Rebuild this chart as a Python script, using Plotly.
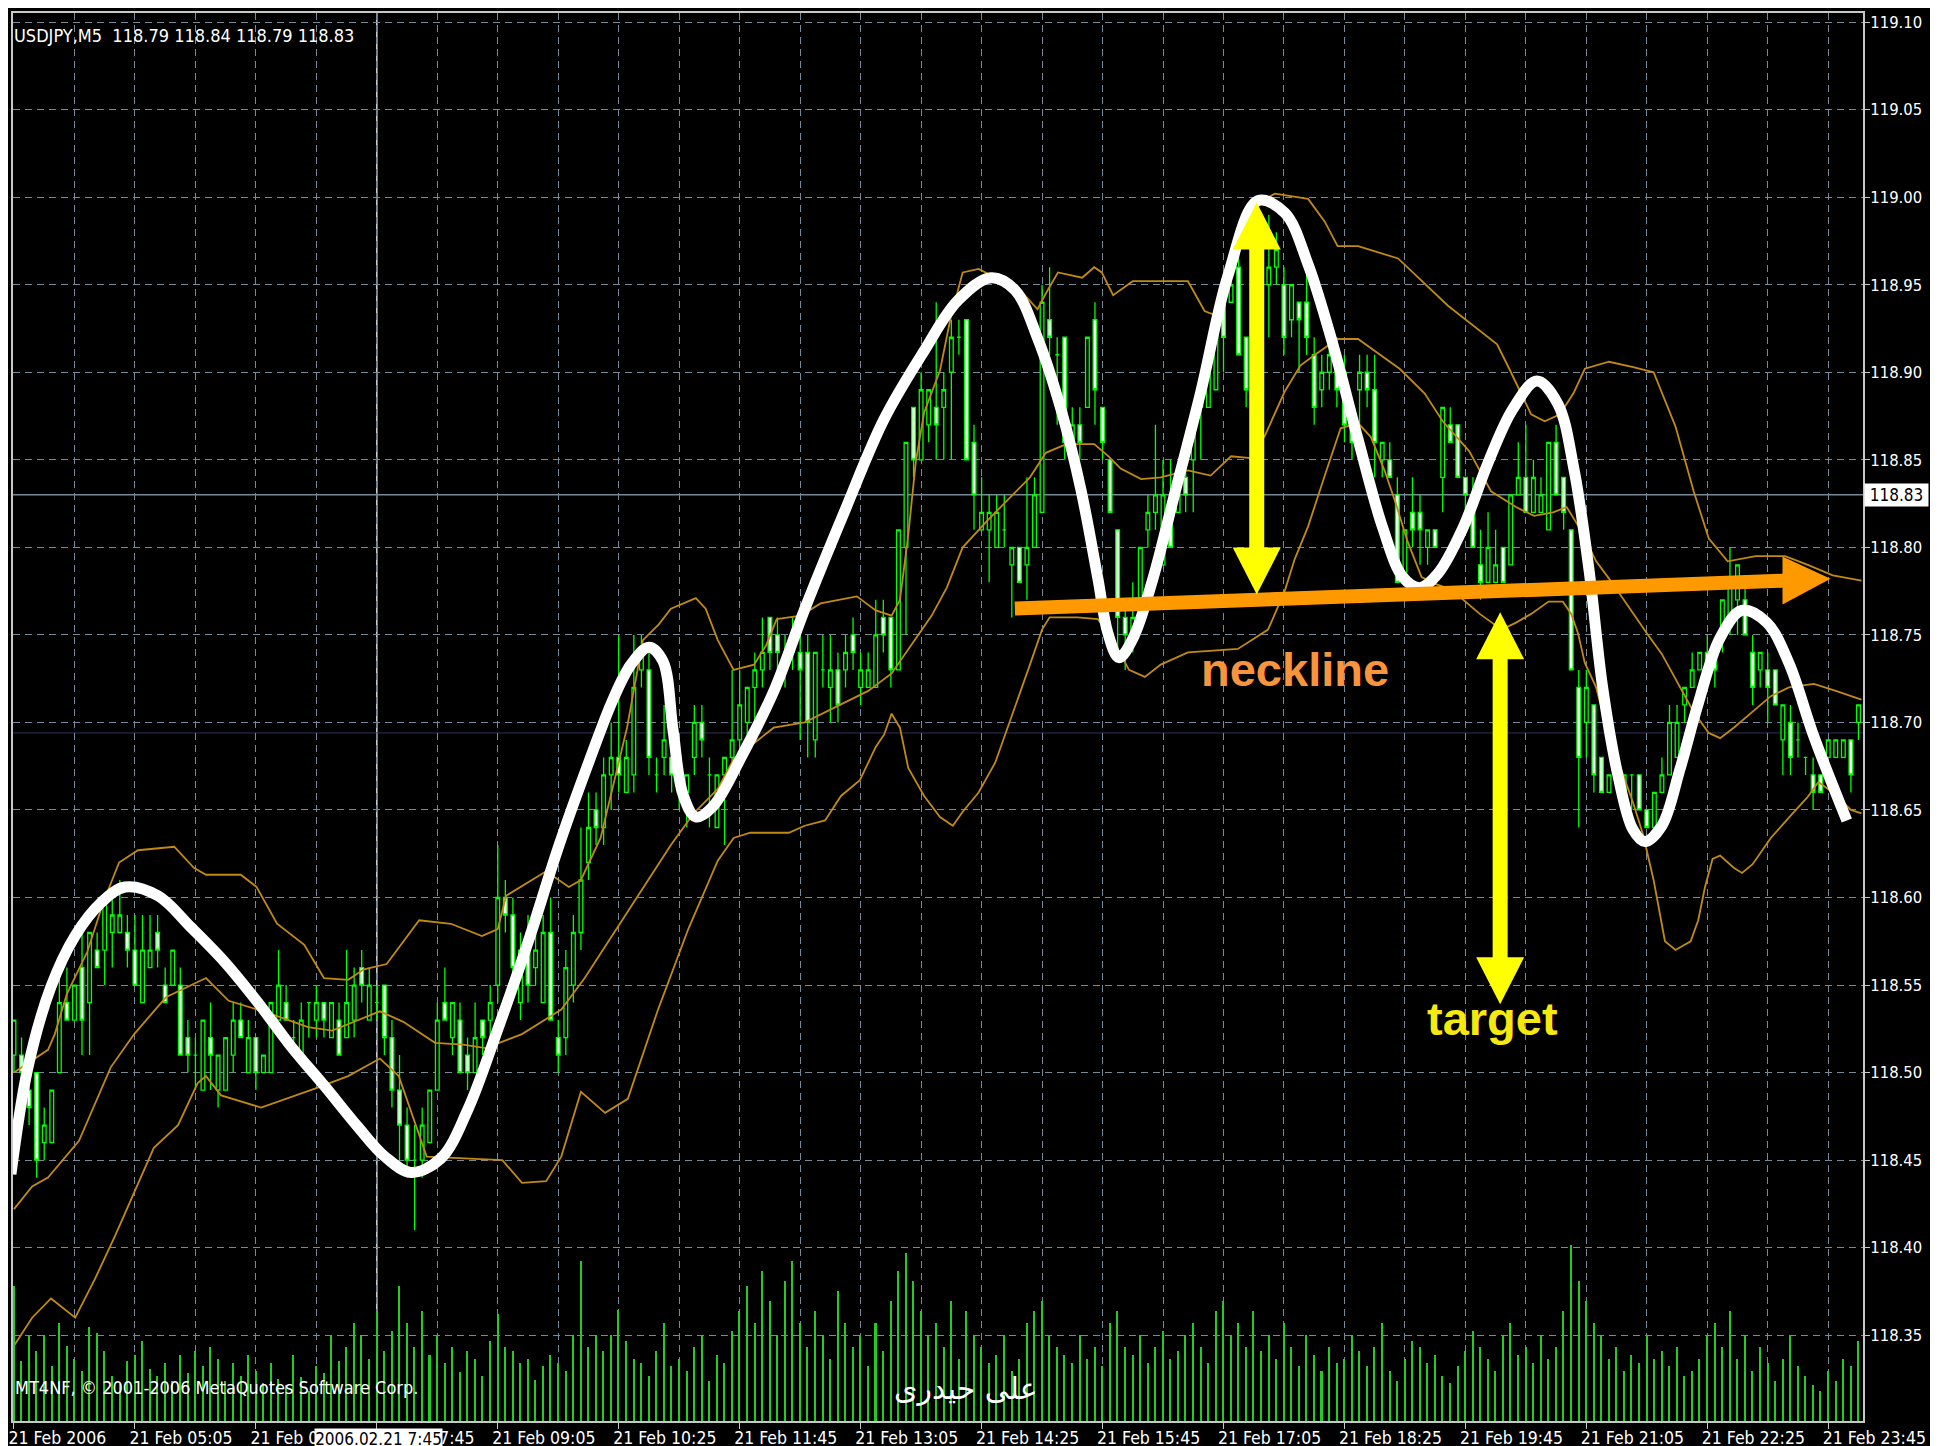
"""
    USDJPY M5 head-and-shoulders chart, MT4 style
"""

##########==========##########==========##########==========##########==========
## HEADER
import plotly.graph_objects as go

##########==========##########==========##########==========##########==========
## DATA  (5-minute bars, bar 0 = 21 Feb 03:45)

OPEN = [
    118.51, 118.51, 118.49, 118.50, 118.46, 118.46, 118.50, 118.54, 118.53, 118.56,
    118.54, 118.57, 118.57, 118.58, 118.58, 118.58, 118.57, 118.54, 118.56, 118.58,
    118.55, 118.55, 118.55, 118.52, 118.51, 118.49, 118.52, 118.49, 118.49, 118.51,
    118.53, 118.50, 118.52, 118.50, 118.50, 118.53, 118.54, 118.52, 118.51, 118.54,
    118.53, 118.54, 118.52, 118.53, 118.52, 118.53, 118.56, 118.53, 118.54, 118.55,
    118.52, 118.49, 118.47, 118.45, 118.45, 118.46, 118.49, 118.54, 118.52, 118.53,
    118.51, 118.50, 118.53, 118.53, 118.55, 118.60, 118.59, 118.54, 118.58, 118.56,
    118.54, 118.58, 118.52, 118.52, 118.55, 118.58, 118.62, 118.65, 118.64, 118.67,
    118.68, 118.66, 118.67, 118.73, 118.73, 118.67, 118.68, 118.68, 118.68, 118.66,
    118.68, 118.70, 118.67, 118.64, 118.67, 118.68, 118.69, 118.70, 118.72, 118.73,
    118.76, 118.75, 118.74, 118.74, 118.74, 118.74, 118.69, 118.73, 118.72, 118.73,
    118.73, 118.75, 118.72, 118.72, 118.72, 118.76, 118.76, 118.73, 118.80, 118.88,
    118.85, 118.87, 118.88, 118.88, 118.90, 118.92, 118.93, 118.86, 118.81, 118.81,
    118.80, 118.81, 118.79, 118.80, 118.79, 118.80, 118.82, 118.93, 118.91, 118.92,
    118.86, 118.87, 118.88, 118.93, 118.88, 118.85, 118.81, 118.76, 118.75, 118.77,
    118.81, 118.82, 118.79, 118.82, 118.82, 118.84, 118.85, 118.88, 118.88, 118.89,
    118.94, 118.94, 118.96, 118.92, 118.89, 118.94, 118.95, 118.96, 118.95, 118.93,
    118.94, 118.94, 118.91, 118.89, 118.90, 118.91, 118.90, 118.88, 118.89, 118.90,
    118.89, 118.85, 118.85, 118.83, 118.78, 118.82, 118.82, 118.80, 118.81, 118.84,
    118.87, 118.87, 118.84, 118.82, 118.79, 118.78, 118.78, 118.80, 118.79, 118.83,
    118.84, 118.82, 118.82, 118.81, 118.86, 118.84, 118.81, 118.72, 118.70, 118.71,
    118.68, 118.66, 118.67, 118.66, 118.67, 118.67, 118.65, 118.64, 118.66, 118.67,
    118.68, 118.71, 118.72, 118.73, 118.74, 118.74, 118.75, 118.76, 118.77, 118.77,
    118.74, 118.73, 118.73, 118.73, 118.69, 118.70, 118.69, 118.68, 118.67, 118.67,
    118.68, 118.68, 118.68, 118.69, 118.70]

HIGH = [
    118.53, 118.52, 118.50, 118.50, 118.48, 118.49, 118.56, 118.56, 118.55, 118.58,
    118.58, 118.58, 118.60, 118.60, 118.61, 118.59, 118.59, 118.59, 118.59, 118.59,
    118.56, 118.57, 118.56, 118.53, 118.52, 118.53, 118.54, 118.51, 118.52, 118.54,
    118.54, 118.53, 118.52, 118.51, 118.54, 118.57, 118.55, 118.53, 118.54, 118.54,
    118.55, 118.54, 118.54, 118.54, 118.57, 118.56, 118.57, 118.56, 118.55, 118.55,
    118.53, 118.51, 118.48, 118.47, 118.48, 118.49, 118.54, 118.56, 118.54, 118.54,
    118.52, 118.54, 118.53, 118.55, 118.63, 118.61, 118.60, 118.58, 118.59, 118.58,
    118.59, 118.60, 118.53, 118.57, 118.59, 118.64, 118.66, 118.66, 118.68, 118.70,
    118.75, 118.69, 118.75, 118.75, 118.74, 118.68, 118.71, 118.71, 118.68, 118.67,
    118.71, 118.71, 118.68, 118.67, 118.68, 118.73, 118.73, 118.72, 118.74, 118.76,
    118.76, 118.76, 118.75, 118.76, 118.75, 118.75, 118.74, 118.75, 118.75, 118.74,
    118.75, 118.76, 118.74, 118.74, 118.77, 118.77, 118.76, 118.81, 118.86, 118.88,
    118.90, 118.89, 118.94, 118.90, 118.93, 118.93, 118.93, 118.87, 118.84, 118.83,
    118.83, 118.83, 118.80, 118.80, 118.84, 118.84, 118.95, 118.96, 118.92, 118.92,
    118.88, 118.88, 118.92, 118.94, 118.88, 118.85, 118.81, 118.77, 118.78, 118.80,
    118.83, 118.87, 118.85, 118.85, 118.83, 118.85, 118.87, 118.89, 118.91, 118.93,
    118.94, 118.97, 118.97, 118.92, 118.96, 118.98, 118.99, 118.98, 118.96, 118.95,
    118.94, 118.96, 118.92, 118.91, 118.92, 118.92, 118.91, 118.88, 118.91, 118.91,
    118.91, 118.86, 118.86, 118.84, 118.81, 118.84, 118.83, 118.81, 118.81, 118.88,
    118.88, 118.87, 118.84, 118.84, 118.81, 118.82, 118.81, 118.80, 118.83, 118.86,
    118.87, 118.85, 118.84, 118.86, 118.87, 118.84, 118.81, 118.73, 118.73, 118.71,
    118.68, 118.67, 118.67, 118.67, 118.67, 118.67, 118.65, 118.66, 118.68, 118.71,
    118.71, 118.72, 118.74, 118.74, 118.75, 118.74, 118.77, 118.80, 118.79, 118.78,
    118.75, 118.74, 118.74, 118.73, 118.71, 118.71, 118.70, 118.68, 118.68, 118.67,
    118.69, 118.69, 118.69, 118.69, 118.71]

LOW = [
    118.50, 118.49, 118.47, 118.44, 118.45, 118.46, 118.50, 118.53, 118.53, 118.51,
    118.51, 118.56, 118.55, 118.56, 118.58, 118.56, 118.55, 118.54, 118.56, 118.56,
    118.54, 118.55, 118.51, 118.50, 118.49, 118.49, 118.49, 118.48, 118.49, 118.50,
    118.52, 118.50, 118.49, 118.50, 118.50, 118.53, 118.53, 118.51, 118.51, 118.52,
    118.52, 118.52, 118.52, 118.51, 118.52, 118.52, 118.54, 118.53, 118.53, 118.51,
    118.48, 118.45, 118.44, 118.41, 118.44, 118.46, 118.49, 118.53, 118.51, 118.50,
    118.49, 118.50, 118.51, 118.52, 118.54, 118.58, 118.55, 118.53, 118.54, 118.55,
    118.54, 118.53, 118.50, 118.51, 118.54, 118.57, 118.61, 118.63, 118.63, 118.65,
    118.66, 118.66, 118.66, 118.72, 118.67, 118.66, 118.67, 118.66, 118.65, 118.64,
    118.67, 118.68, 118.64, 118.64, 118.63, 118.67, 118.68, 118.69, 118.69, 118.72,
    118.73, 118.73, 118.72, 118.73, 118.69, 118.68, 118.68, 118.72, 118.70, 118.70,
    118.72, 118.73, 118.71, 118.72, 118.72, 118.74, 118.72, 118.73, 118.75, 118.84,
    118.85, 118.86, 118.85, 118.85, 118.85, 118.91, 118.85, 118.81, 118.81, 118.78,
    118.80, 118.80, 118.76, 118.78, 118.77, 118.80, 118.82, 118.91, 118.87, 118.85,
    118.85, 118.85, 118.88, 118.87, 118.85, 118.82, 118.74, 118.73, 118.74, 118.76,
    118.80, 118.81, 118.79, 118.80, 118.82, 118.82, 118.82, 118.85, 118.88, 118.89,
    118.90, 118.94, 118.91, 118.88, 118.88, 118.93, 118.92, 118.95, 118.91, 118.92,
    118.90, 118.91, 118.87, 118.88, 118.89, 118.88, 118.86, 118.85, 118.87, 118.88,
    118.84, 118.84, 118.84, 118.78, 118.78, 118.80, 118.79, 118.79, 118.80, 118.82,
    118.86, 118.84, 118.82, 118.80, 118.77, 118.78, 118.78, 118.78, 118.79, 118.83,
    118.82, 118.82, 118.82, 118.81, 118.83, 118.81, 118.73, 118.64, 118.68, 118.66,
    118.66, 118.66, 118.66, 118.66, 118.65, 118.65, 118.64, 118.64, 118.66, 118.67,
    118.68, 118.70, 118.72, 118.73, 118.73, 118.72, 118.74, 118.75, 118.75, 118.75,
    118.71, 118.72, 118.70, 118.71, 118.67, 118.67, 118.68, 118.67, 118.65, 118.66,
    118.68, 118.68, 118.68, 118.66, 118.69]

CLOSE = [
    118.53, 118.50, 118.48, 118.45, 118.47, 118.49, 118.54, 118.53, 118.55, 118.53,
    118.58, 118.56, 118.60, 118.59, 118.59, 118.57, 118.55, 118.57, 118.57, 118.57,
    118.54, 118.57, 118.51, 118.51, 118.51, 118.53, 118.51, 118.51, 118.52, 118.53,
    118.52, 118.52, 118.50, 118.51, 118.54, 118.55, 118.53, 118.52, 118.53, 118.54,
    118.54, 118.53, 118.54, 118.51, 118.54, 118.55, 118.55, 118.55, 118.54, 118.52,
    118.49, 118.47, 118.45, 118.45, 118.47, 118.49, 118.53, 118.53, 118.54, 118.50,
    118.50, 118.52, 118.52, 118.54, 118.60, 118.59, 118.56, 118.57, 118.55, 118.57,
    118.58, 118.53, 118.51, 118.56, 118.58, 118.61, 118.64, 118.64, 118.67, 118.68,
    118.67, 118.68, 118.72, 118.74, 118.68, 118.67, 118.69, 118.67, 118.66, 118.67,
    118.70, 118.69, 118.67, 118.67, 118.68, 118.69, 118.71, 118.72, 118.73, 118.74,
    118.74, 118.74, 118.74, 118.75, 118.73, 118.70, 118.74, 118.73, 118.73, 118.71,
    118.74, 118.74, 118.73, 118.73, 118.75, 118.75, 118.73, 118.81, 118.86, 118.85,
    118.89, 118.89, 118.87, 118.89, 118.92, 118.92, 118.85, 118.83, 118.82, 118.82,
    118.82, 118.81, 118.80, 118.78, 118.80, 118.83, 118.94, 118.92, 118.91, 118.86,
    118.87, 118.86, 118.92, 118.89, 118.86, 118.82, 118.76, 118.75, 118.76, 118.80,
    118.82, 118.83, 118.83, 118.80, 118.83, 118.83, 118.87, 118.89, 118.90, 118.93,
    118.92, 118.95, 118.91, 118.89, 118.94, 118.96, 118.96, 118.97, 118.92, 118.95,
    118.93, 118.92, 118.88, 118.90, 118.91, 118.89, 118.87, 118.86, 118.90, 118.89,
    118.86, 118.86, 118.84, 118.78, 118.81, 118.81, 118.81, 118.81, 118.80, 118.88,
    118.86, 118.84, 118.83, 118.80, 118.78, 118.80, 118.79, 118.78, 118.83, 118.84,
    118.82, 118.84, 118.83, 118.86, 118.83, 118.82, 118.73, 118.68, 118.72, 118.67,
    118.66, 118.67, 118.67, 118.67, 118.67, 118.65, 118.64, 118.66, 118.67, 118.70,
    118.70, 118.72, 118.73, 118.74, 118.73, 118.73, 118.77, 118.78, 118.79, 118.75,
    118.72, 118.74, 118.72, 118.71, 118.71, 118.68, 118.69, 118.68, 118.66, 118.66,
    118.69, 118.69, 118.69, 118.67, 118.71]

VOLUME = [
    135, 60, 86, 70, 86, 55, 98, 75, 62, 50, 94, 88, 70, 45, 37, 60,
    66, 80, 52, 45, 58, 40, 66, 48, 70, 55, 74, 62, 40, 58, 45, 66,
    50, 38, 58, 42, 36, 66, 44, 30, 55, 48, 86, 60, 74, 98, 86, 62,
    110, 70, 90, 135, 98, 74, 110, 66, 86, 58, 74, 49, 70, 62, 45, 80,
    107, 74, 70, 58, 62, 41, 55, 66, 58, 50, 86, 160, 74, 86, 70, 86,
    111, 80, 62, 58, 45, 70, 98, 55, 62, 50, 74, 86, 40, 66, 58, 90,
    110, 135, 98, 150, 120, 86, 140, 160, 98, 74, 110, 86, 62, 130, 98, 74,
    86, 55, 98, 70, 120, 150, 168, 140, 110, 86, 98, 74, 120, 62, 110, 86,
    74, 58, 66, 86, 50, 62, 98, 110, 120, 86, 74, 66, 58, 86, 62, 74,
    55, 98, 110, 74, 66, 86, 58, 74, 90, 62, 70, 86, 98, 74, 58, 110,
    120, 86, 98, 74, 110, 70, 86, 62, 98, 74, 55, 86, 66, 50, 74, 58,
    62, 86, 70, 55, 74, 98, 50, 40, 62, 80, 74, 58, 66, 45, 38, 55,
    70, 90, 74, 62, 50, 86, 98, 66, 74, 58, 86, 62, 74, 110, 176, 140,
    120, 98, 86, 62, 74, 50, 66, 58, 86, 62, 70, 55, 74, 45, 50, 62,
    86, 98, 74, 110, 62, 86, 50, 74, 58, 40, 62, 86, 55, 45, 36, 30,
    50, 40, 62, 55, 80]

## Bollinger bands at irregular bar positions
BB_UP_BAR = [
    0.0, 4.5, 5.4, 7.0, 9.7, 11.8, 13.9, 16.4, 21.2, 23.8, 25.4, 30.0, 32.1, 34.8,
    38.4, 41.0, 44.2, 46.3, 49.3, 53.6, 57.8, 61.9, 64.0, 65.1, 70.4, 73.4, 75.0,
    77.6, 81.1, 83.2, 85.3, 86.9, 90.2, 91.5, 93.1, 95.2, 97.9, 99.5, 100.9, 104.1,
    106.7, 111.5, 114.0, 116.1, 117.2, 118.3, 119.3, 120.4, 122.5, 123.9, 125.5,
    127.6, 130.8, 133.5, 135.4, 136.5, 138.1, 141.3, 142.9, 143.9, 145.4, 148.0,
    151.7, 155.3, 157.5, 159.3, 161.2, 163.4, 166.8, 171.2, 173.4, 175.1, 177.8,
    183.1, 189.7, 196.2, 197.8, 200.7, 202.5, 204.5, 206.3, 207.8, 211.0, 214.2,
    216.9, 219.8, 222.2, 224.2, 226.7, 230.4, 234.3, 237.3, 240.6, 244.4]
BB_UP_PRICE = [
    118.500, 118.513, 118.522, 118.545, 118.569, 118.597, 118.620, 118.627, 118.629,
    118.617, 118.613, 118.613, 118.606, 118.585, 118.573, 118.554, 118.553, 118.559,
    118.562, 118.587, 118.585, 118.578, 118.582, 118.601, 118.615, 118.606, 118.610,
    118.634, 118.697, 118.747, 118.756, 118.765, 118.771, 118.765, 118.747, 118.730,
    118.733, 118.744, 118.759, 118.761, 118.768, 118.772, 118.764, 118.761, 118.770,
    118.807, 118.849, 118.877, 118.901, 118.931, 118.957, 118.959, 118.952, 118.945,
    118.936, 118.945, 118.957, 118.954, 118.960, 118.957, 118.944, 118.952, 118.952,
    118.952, 118.935, 118.932, 118.956, 118.994, 119.002, 118.999, 118.986, 118.972,
    118.972, 118.965, 118.938, 118.916, 118.902, 118.876, 118.872, 118.876, 118.888,
    118.902, 118.906, 118.903, 118.900, 118.869, 118.832, 118.805, 118.792, 118.795,
    118.795, 118.790, 118.784, 118.781]

BB_MID_BAR = [
    0.0, 2.4, 4.5, 8.6, 12.8, 15.9, 20.1, 25.4, 28.4, 33.7, 38.9, 42.1, 48.4, 51.5,
    55.7, 59.4, 62.4, 67.2, 72.4, 75.5, 81.2, 83.9, 86.9, 89.9, 93.1, 95.2, 98.4,
    100.5, 104.6, 108.9, 113.0, 116.1, 118.3, 121.4, 123.4, 125.5, 128.7, 130.8,
    134.4, 136.5, 139.2, 142.9, 144.8, 146.4, 149.1, 151.7, 155.3, 158.3, 161.0,
    163.6, 165.5, 168.1, 170.2, 172.1, 175.1, 177.8, 183.3, 186.6, 189.0, 192.5,
    195.4, 198.7, 201.1, 203.6, 205.4, 207.4, 209.3, 211.2, 213.1, 216.0, 218.0,
    220.4, 222.2, 224.2, 225.7, 227.5, 230.0, 232.4, 234.8, 238.1, 241.0, 244.4]
BB_MID_PRICE = [
    118.422, 118.435, 118.440, 118.461, 118.503, 118.522, 118.543, 118.554, 118.541,
    118.534, 118.526, 118.524, 118.535, 118.529, 118.517, 118.516, 118.514, 118.522,
    118.536, 118.554, 118.592, 118.610, 118.630, 118.648, 118.662, 118.679, 118.690,
    118.697, 118.700, 118.709, 118.718, 118.728, 118.742, 118.761, 118.777, 118.800,
    118.815, 118.824, 118.840, 118.854, 118.859, 118.859, 118.852, 118.845, 118.839,
    118.840, 118.844, 118.841, 118.852, 118.851, 118.864, 118.889, 118.904, 118.910,
    118.919, 118.919, 118.902, 118.888, 118.872, 118.855, 118.832, 118.823, 118.818,
    118.820, 118.823, 118.809, 118.792, 118.781, 118.769, 118.751, 118.739, 118.720,
    118.706, 118.694, 118.691, 118.697, 118.706, 118.715, 118.720, 118.722, 118.718,
    118.713]

BB_LOW_BAR = [
    0.0, 2.4, 4.9, 8.1, 10.7, 13.4, 18.5, 21.7, 24.3, 25.4, 27.4, 32.7, 39.9, 44.2,
    48.4, 50.9, 54.6, 64.6, 67.2, 70.4, 72.4, 75.0, 78.2, 81.2, 85.2, 89.2, 93.1,
    95.2, 97.4, 102.5, 104.6, 107.3, 109.4, 111.9, 114.0, 115.1, 116.1, 117.2, 118.3,
    120.4, 122.5, 124.2, 125.5, 127.6, 129.8, 131.3, 132.9, 134.4, 136.0, 137.0,
    140.7, 143.4, 145.4, 147.5, 149.6, 151.7, 155.3, 161.9, 165.9, 168.1, 169.4,
    171.2, 173.4, 175.5, 177.8, 179.5, 181.3, 182.8, 184.3, 186.2, 188.1, 190.1,
    193.9, 196.8, 198.7, 200.7, 203.0, 204.9, 206.0, 206.9, 207.8, 209.3, 210.7,
    212.2, 214.2, 215.5, 216.9, 218.4, 219.8, 221.8, 222.8, 223.7, 224.7, 225.7,
    227.5, 228.6, 230.0, 232.4, 235.3, 237.2, 238.7, 240.6, 243.0, 244.4]
BB_LOW_PRICE = [
    118.344, 118.360, 118.371, 118.360, 118.382, 118.407, 118.457, 118.470, 118.494,
    118.498, 118.487, 118.480, 118.491, 118.498, 118.508, 118.498, 118.452, 118.450,
    118.437, 118.438, 118.452, 118.489, 118.477, 118.485, 118.536, 118.582, 118.621,
    118.634, 118.637, 118.637, 118.641, 118.644, 118.658, 118.667, 118.686, 118.693,
    118.705, 118.697, 118.674, 118.658, 118.646, 118.641, 118.649, 118.660, 118.677,
    118.695, 118.714, 118.733, 118.753, 118.760, 118.760, 118.759, 118.747, 118.730,
    118.726, 118.733, 118.740, 118.742, 118.753, 118.775, 118.793, 118.812, 118.841,
    118.868, 118.871, 118.863, 118.844, 118.825, 118.804, 118.783, 118.779, 118.776,
    118.762, 118.753, 118.757, 118.762, 118.769, 118.769, 118.762, 118.751, 118.734,
    118.720, 118.697, 118.678, 118.654, 118.636, 118.610, 118.575, 118.570, 118.575,
    118.587, 118.606, 118.622, 118.624, 118.617, 118.614, 118.619, 118.634, 118.648,
    118.657, 118.666, 118.660, 118.650, 118.648]

## hand drawn pattern line
WAVE_BAR = [
    -0.4, 1.85, 4.89, 8.07, 11.51, 14.68, 19.05, 23.41, 27.91, 32.28, 36.64, 41.14,
    45.50, 49.07, 52.51, 56.48, 60.05, 64.02, 68.12, 71.96, 75.93, 79.23, 81.61,
    84.00, 85.85, 87.17, 88.49, 90.21, 92.46, 96.30, 100.53, 104.63, 109.92, 115.08,
    120.37, 124.87, 129.23, 132.41, 135.45, 138.49, 141.14, 143.39, 144.71, 146.16,
    148.02, 150.66, 153.57, 157.01, 160.58, 164.55, 168.12, 171.16, 174.47, 177.78,
    181.08, 183.73, 185.98, 188.36, 191.67, 194.97, 198.28, 201.46, 204.23, 206.35,
    208.33, 210.19, 212.17, 214.15, 215.74, 217.99, 220.37, 222.75, 225.66, 228.57,
    231.88, 234.79, 238.10, 242.46]
WAVE_PRICE = [
    118.442, 118.503, 118.549, 118.578, 118.597, 118.606, 118.601, 118.583, 118.563,
    118.540, 118.515, 118.492, 118.469, 118.452, 118.443, 118.451, 118.479, 118.525,
    118.576, 118.628, 118.676, 118.713, 118.733, 118.743, 118.735, 118.696, 118.659,
    118.646, 118.652, 118.681, 118.718, 118.765, 118.821, 118.873, 118.912, 118.941,
    118.954, 118.947, 118.919, 118.879, 118.833, 118.782, 118.751, 118.737, 118.748,
    118.782, 118.831, 118.889, 118.955, 118.998, 118.991, 118.962, 118.916, 118.862,
    118.811, 118.783, 118.777, 118.785, 118.811, 118.848, 118.879, 118.895, 118.882,
    118.845, 118.788, 118.719, 118.670, 118.639, 118.632, 118.641, 118.673, 118.710,
    118.748, 118.764, 118.757, 118.734, 118.692, 118.644]

TICK_BARS = [0, 16, 32, 48, 64, 80, 96, 112, 128, 144, 160, 176, 192, 208, 224, 240]
TICK_TEXT = ['21 Feb 2006', '21 Feb 05:05', '21 Feb 06:25', '21 Feb 07:45',
             '21 Feb 09:05', '21 Feb 10:25', '21 Feb 11:45', '21 Feb 13:05',
             '21 Feb 14:25', '21 Feb 15:45', '21 Feb 17:05', '21 Feb 18:25',
             '21 Feb 19:45', '21 Feb 21:05', '21 Feb 22:25', '21 Feb 23:45']

NECK_START = (132.4, 118.765)
NECK_TIP = (240.3, 118.782)
HEAD_ARROW = (164.4, 118.997, 118.773)      # bar, top, bottom
TARGET_ARROW = (196.6, 118.763, 118.539)
NECK_LABEL = (169.5, 118.730)
TARGET_LABEL = (195.6, 118.531)
BID = 118.83
ASK_LINE = 118.694
CROSS_BAR = 48

##########==========##########==========##########==========##########==========
## STYLE

W, H = 1946, 1446
MARGIN = dict(l=5, r=91, t=5, b=33)
X_RANGE = [-0.13, 244.6]
Y_RANGE = [118.301, 119.1052]
LIME = '#00ff00'
VOL_GREEN = '#22cc22'
BAND = '#c08a14'
GRID = '#778899'
FRAME = '#c8c8c8'
ORANGE = '#ff9900'
YELLOW = '#ffff00'
NARROW = 'DejaVu Sans Condensed, Liberation Sans Narrow, Arial Narrow, sans-serif'
BOLD = 'Liberation Sans, Arial, Helvetica, sans-serif'
PLOT_W = W - MARGIN['l'] - MARGIN['r']
PLOT_H = H - MARGIN['t'] - MARGIN['b']


def px_to_bars(px):
    return px * (X_RANGE[1] - X_RANGE[0]) / PLOT_W


def px_to_price(px):
    return px * (Y_RANGE[1] - Y_RANGE[0]) / PLOT_H


def page_x(px):
    return (px - MARGIN['l']) / PLOT_W


def page_y(py):
    return (H - MARGIN['b'] - py) / PLOT_H


##########==========##########==========##########==========##########==========
## COMPONENT FUNCTIONS

def double_arrow(bar, top, bottom, color, shaft = 15, head_len = 47, head_w = 48):
    """
        Vertical arrow with a head at both ends, as shapes in data coordinates
    """
    hl = px_to_price(head_len)
    hw = px_to_bars(head_w / 2)
    common = dict(xref = 'x', yref = 'y', layer = 'above')
    return [
        dict(type = 'line', x0 = bar, x1 = bar, y0 = bottom + hl * 0.9, y1 = top - hl * 0.9,
             line = dict(color = color, width = shaft), **common),
        dict(type = 'path', path = f'M{bar - hw},{top - hl} L{bar},{top} L{bar + hw},{top - hl} Z',
             fillcolor = color, line = dict(width = 0), **common),
        dict(type = 'path', path = f'M{bar - hw},{bottom + hl} L{bar},{bottom} L{bar + hw},{bottom + hl} Z',
             fillcolor = color, line = dict(width = 0), **common),
    ]


def single_arrow(start, tip, color, width = 14, head_len = 48, head_w = 48):
    """
        Slightly sloped arrow from start to tip
    """
    (x0, y0), (x1, y1) = start, tip
    bx = x1 - px_to_bars(head_len)
    by = y0 + (y1 - y0) * (bx - x0) / (x1 - x0)
    hw = px_to_price(head_w / 2)
    common = dict(xref = 'x', yref = 'y', layer = 'above')
    return [
        dict(type = 'line', x0 = x0, y0 = y0, x1 = bx + 0.5, y1 = by,
             line = dict(color = color, width = width), **common),
        dict(type = 'path', path = f'M{bx},{by + hw} L{x1},{y1} L{bx},{by - hw} Z',
             fillcolor = color, line = dict(width = 0), **common),
    ]


def text_note(text, x, y, size = 18, color = 'white', family = NARROW, **kw):
    return dict(text = text, x = x, y = y, xref = 'paper', yref = 'paper',
                showarrow = False, font = dict(size = size, color = color, family = family), **kw)


##########==========##########==========##########==========##########==========
## FIGURE

bars = list(range(len(CLOSE)))
fig = go.Figure()

fig.add_trace(go.Bar(
    x = bars, y = VOLUME, width = 0.2, yaxis = 'y2',
    marker = dict(color = VOL_GREEN, line = dict(width = 0)),
    hoverinfo = 'skip', showlegend = False))

for bx, by in [(BB_UP_BAR, BB_UP_PRICE), (BB_MID_BAR, BB_MID_PRICE), (BB_LOW_BAR, BB_LOW_PRICE)]:
    fig.add_trace(go.Scatter(
        x = bx, y = by, mode = 'lines', line = dict(color = BAND, width = 1.8),
        hoverinfo = 'skip', showlegend = False))

fig.add_trace(go.Candlestick(
    x = bars, open = OPEN, high = HIGH, low = LOW, close = CLOSE,
    increasing = dict(line = dict(color = LIME, width = 1.3), fillcolor = 'black'),
    decreasing = dict(line = dict(color = LIME, width = 1.3), fillcolor = 'white'),
    whiskerwidth = 0, hoverinfo = 'skip', showlegend = False))

fig.add_trace(go.Scatter(
    x = WAVE_BAR, y = WAVE_PRICE, mode = 'lines',
    line = dict(color = 'white', width = 11, shape = 'spline', smoothing = 1.0),
    hoverinfo = 'skip', showlegend = False))

shapes = [
    dict(type = 'line', xref = 'x', yref = 'paper', x0 = CROSS_BAR, x1 = CROSS_BAR, y0 = 0, y1 = 1,
         line = dict(color = '#d8d8d8', width = 1.5), layer = 'below'),
    dict(type = 'line', xref = 'paper', yref = 'y', x0 = 0, x1 = 1, y0 = BID, y1 = BID,
         line = dict(color = GRID, width = 1.5), layer = 'below'),
    dict(type = 'line', xref = 'paper', yref = 'y', x0 = 0, x1 = 1, y0 = ASK_LINE, y1 = ASK_LINE,
         line = dict(color = '#30305a', width = 1), layer = 'below'),
    dict(type = 'rect', xref = 'paper', yref = 'paper', x0 = page_x(1922), x1 = page_x(W + 5),
         y0 = page_y(H + 5), y1 = page_y(-5), fillcolor = 'white', line = dict(width = 0), layer = 'above'),
]
shapes += single_arrow(NECK_START, NECK_TIP, ORANGE)
shapes += double_arrow(*HEAD_ARROW, YELLOW)
shapes += double_arrow(*TARGET_ARROW, YELLOW)

annotations = [
    text_note('USDJPY,M5\u00a0\u00a0118.79 118.84 118.79 118.83', page_x(4), page_y(27),
              xanchor = 'left', yanchor = 'middle'),
    text_note('MT4NF, \u00a9 2001-2006 MetaQuotes Software Corp.', page_x(5), page_y(1379),
              xanchor = 'left', yanchor = 'middle'),
    text_note('علی حیدری', page_x(958), page_y(1380), size = 30, family = 'DejaVu Sans',
              xanchor = 'center', yanchor = 'middle'),
    text_note('2006.02.21 7:45', page_x(306), page_y(1431), size = 17, color = 'black',
              xanchor = 'left', yanchor = 'middle', bgcolor = 'white', width = 127, height = 20,
              borderpad = 0),
    dict(text = '118.83', x = page_x(1856), y = BID, xref = 'paper', yref = 'y', showarrow = False,
         xanchor = 'left', yanchor = 'middle', bgcolor = 'white', width = 63, height = 22, borderpad = 0,
         font = dict(size = 17, color = 'black', family = NARROW)),
    dict(text = '<b>neckline</b>', x = NECK_LABEL[0], y = NECK_LABEL[1], xref = 'x', yref = 'y',
         showarrow = False, font = dict(size = 47, color = '#f7943c', family = BOLD)),
    dict(text = '<b>target</b>', x = TARGET_LABEL[0], y = TARGET_LABEL[1], xref = 'x', yref = 'y',
         showarrow = False, font = dict(size = 47, color = '#f5e90f', family = BOLD)),
]

fig.update_layout(
    width = W, height = H, margin = MARGIN,
    paper_bgcolor = 'black', plot_bgcolor = 'black',
    font = dict(family = NARROW, size = 18, color = 'white'),
    showlegend = False, hovermode = False, dragmode = False,
    xaxis = dict(
        range = X_RANGE, tickmode = 'array', tickvals = TICK_BARS, ticktext = TICK_TEXT,
        tickangle = 0, automargin = False, ticklabelshift = -7, ticklabeloverflow = 'allow',
        ticklabelposition = 'outside right', ticks = 'outside', ticklen = 6, tickcolor = FRAME,
        tickfont = dict(size = 17.5, color = 'white', family = NARROW),
        showgrid = True, gridcolor = GRID, gridwidth = 1, griddash = '7px,5px',
        minor = dict(tickmode = 'linear', tick0 = 0, dtick = 8, showgrid = True,
                     gridcolor = GRID, gridwidth = 1, griddash = '7px,5px', ticks = ''),
        showline = True, mirror = True, linecolor = FRAME, linewidth = 2,
        zeroline = False, rangeslider = dict(visible = False), fixedrange = True),
    yaxis = dict(
        range = Y_RANGE, side = 'right', tick0 = 118.35, dtick = 0.05, tickformat = '.2f',
        automargin = False, ticks = 'outside', ticklen = 5, tickcolor = FRAME,
        ticklabelstandoff = -3,
        tickfont = dict(size = 16.5, color = 'white', family = NARROW),
        showgrid = True, gridcolor = GRID, gridwidth = 1, griddash = '7px,5px',
        showline = True, mirror = True, linecolor = FRAME, linewidth = 2,
        zeroline = False, fixedrange = True),
    yaxis2 = dict(range = [0, PLOT_H], overlaying = 'y', visible = False, fixedrange = True),
    bargap = 0,
    shapes = shapes,
    annotations = annotations,
)

fig.write_html('out.html')
